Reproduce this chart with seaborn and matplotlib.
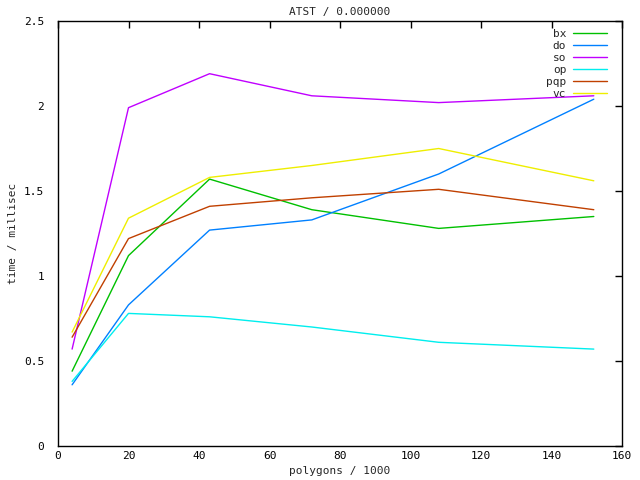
import pandas as pd
import matplotlib
matplotlib.use("Agg")
import matplotlib.pyplot as plt
import seaborn as sns

# polygons / 1000
polygons = [4, 20, 43, 72, 108, 152]

# time / millisec per method
bx = [0.44, 1.12, 1.57, 1.39, 1.28, 1.35]
do = [0.36, 0.83, 1.27, 1.33, 1.60, 2.04]
so = [0.57, 1.99, 2.19, 2.06, 2.02, 2.06]
op = [0.38, 0.78, 0.76, 0.70, 0.61, 0.57]
pqp = [0.64, 1.22, 1.41, 1.46, 1.51, 1.39]
vc = [0.67, 1.34, 1.58, 1.65, 1.75, 1.56]

methods = ['bx', 'do', 'so', 'op', 'pqp', 'vc']
colors = ['#00c000', '#0080ff', '#c000ff', '#00eeee', '#c04000', '#eeee00']

rows = []
for name, vals in zip(methods, [bx, do, so, op, pqp, vc]):
    for x, y in zip(polygons, vals):
        rows.append({'polygons': x, 'time': y, 'method': name})
df = pd.DataFrame(rows)

sns.set_style("white")
plt.rcParams['font.family'] = ['DejaVu Sans Mono']

fig = plt.figure(figsize=(6.4, 4.8), dpi=100)
ax = fig.add_axes([58/640, 1 - 446/480, (622 - 58)/640, (446 - 21)/480])

sns.lineplot(data=df, x='polygons', y='time', hue='method',
             palette=dict(zip(methods, colors)), linewidth=1, ax=ax)

ax.set_xlim(0, 160)
ax.set_ylim(0, 2.5)
ax.set_xticks(range(0, 161, 20))
ax.set_yticks([0, 0.5, 1, 1.5, 2, 2.5])
ax.set_yticklabels(['0', '0.5', '1', '1.5', '2', '2.5'])
ax.tick_params(direction='in', length=5, width=1, top=True, right=True,
               labelsize=8, colors='black')
ax.tick_params(axis='y', pad=10)
for s in ax.spines.values():
    s.set_color('black')
    s.set_linewidth(1)

ax.set_xlabel('polygons / 1000', fontsize=8)
ax.set_ylabel('time / millisec', fontsize=8)
ax.set_title('ATST / 0.000000', fontsize=8, pad=4)

leg = ax.legend(loc='upper right', bbox_to_anchor=(0.981, 0.992),
                frameon=False, markerfirst=False, fontsize=8,
                handlelength=3.05, handletextpad=0.6,
                labelspacing=0.18, borderaxespad=0)
for t in leg.get_texts():
    t.set_ha('right')

fig.savefig('out.png', dpi=100)
